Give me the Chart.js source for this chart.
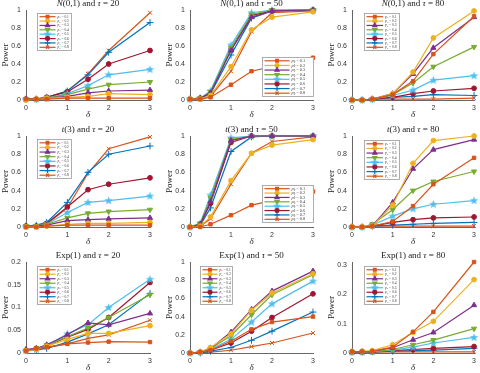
<!DOCTYPE html>
<html>
<head>
<meta charset="utf-8">
<script src="https://cdn.jsdelivr.net/npm/chart.js@4.4.0/dist/chart.umd.min.js"></script>
<style>
  html, body { margin: 0; padding: 0; background: #fff; }
  #wrap { position: relative; width: 480px; height: 373px; overflow: hidden; }
  #wrap canvas { position: absolute; }
</style>
</head>
<body>
<div id="wrap"></div>
<script>
// x positions (delta) and legend labels
const DELTA = [0, 0.25, 0.5, 1, 1.5, 2, 3];
const P0 = ["0.1", "0.2", "0.3", "0.4", "0.5", "0.6", "0.7", "0.8"];
const X_TICKS = [0, 1, 2, 3];
const Y_TICKS_UNIT = [0, 0.2, 0.4, 0.6, 0.8, 1];
const Y_TICKS_EXP20 = [0, 0.05, 0.1, 0.15, 0.2];
const Y_TICKS_EXP80 = [0, 0.1, 0.2, 0.3];

// power curves, one row per p0 (0.1 .. 0.8)
const normal20 = [
  [0.01, 0.01, 0.01, 0.02, 0.02, 0.02, 0.02],
  [0.00, 0.01, 0.02, 0.03, 0.04, 0.07, 0.06],
  [0.01, 0.01, 0.02, 0.04, 0.08, 0.10, 0.11],
  [0.01, 0.01, 0.02, 0.06, 0.12, 0.17, 0.20],
  [0.01, 0.01, 0.02, 0.07, 0.16, 0.28, 0.34],
  [0.01, 0.01, 0.03, 0.09, 0.23, 0.40, 0.55],
  [0.01, 0.01, 0.03, 0.10, 0.28, 0.53, 0.86],
  [0.01, 0.01, 0.03, 0.10, 0.29, 0.55, 0.97]
];
const normal50 = [
  [0.01, 0.01, 0.03, 0.17, 0.32, 0.37, 0.47],
  [0.01, 0.01, 0.05, 0.37, 0.78, 0.92, 0.98],
  [0.01, 0.02, 0.08, 0.55, 0.92, 0.99, 1.00],
  [0.01, 0.02, 0.09, 0.58, 0.95, 1.00, 1.00],
  [0.01, 0.02, 0.10, 0.61, 0.97, 1.00, 1.00],
  [0.01, 0.02, 0.08, 0.56, 0.94, 0.99, 1.00],
  [0.01, 0.02, 0.07, 0.50, 0.91, 0.99, 1.00],
  [0.01, 0.01, 0.04, 0.32, 0.76, 0.97, 0.99]
];
const normal80 = [
  [0.00, 0.00, 0.01, 0.06, 0.21, 0.51, 0.93],
  [0.00, 0.00, 0.01, 0.07, 0.31, 0.69, 0.99],
  [0.00, 0.00, 0.01, 0.07, 0.29, 0.58, 0.92],
  [0.00, 0.00, 0.01, 0.06, 0.19, 0.37, 0.59],
  [0.00, 0.00, 0.01, 0.05, 0.11, 0.22, 0.27],
  [0.00, 0.00, 0.01, 0.03, 0.07, 0.10, 0.13],
  [0.00, 0.00, 0.01, 0.03, 0.04, 0.06, 0.05],
  [0.00, 0.00, 0.01, 0.01, 0.01, 0.01, 0.02]
];
const t20 = [
  [0.00, 0.00, 0.01, 0.02, 0.02, 0.02, 0.02],
  [0.00, 0.00, 0.01, 0.03, 0.04, 0.04, 0.05],
  [0.01, 0.01, 0.02, 0.07, 0.08, 0.09, 0.10],
  [0.01, 0.01, 0.03, 0.10, 0.15, 0.17, 0.19],
  [0.01, 0.01, 0.03, 0.16, 0.27, 0.29, 0.34],
  [0.01, 0.01, 0.04, 0.22, 0.41, 0.47, 0.54],
  [0.01, 0.02, 0.05, 0.27, 0.60, 0.80, 0.89],
  [0.01, 0.01, 0.03, 0.21, 0.59, 0.86, 0.99]
];
const t50 = [
  [0.00, 0.00, 0.03, 0.13, 0.24, 0.29, 0.39],
  [0.00, 0.01, 0.11, 0.51, 0.81, 0.90, 0.96],
  [0.00, 0.03, 0.28, 0.95, 1.00, 1.00, 1.00],
  [0.00, 0.04, 0.32, 0.96, 1.00, 1.00, 1.00],
  [0.00, 0.04, 0.35, 0.98, 1.00, 1.00, 1.00],
  [0.00, 0.03, 0.26, 0.93, 1.00, 1.00, 1.00],
  [0.00, 0.02, 0.21, 0.83, 0.99, 1.00, 1.00],
  [0.00, 0.01, 0.09, 0.47, 0.81, 0.94, 0.99]
];
const t80 = [
  [0.00, 0.00, 0.01, 0.06, 0.23, 0.47, 0.76],
  [0.00, 0.00, 0.01, 0.24, 0.70, 0.95, 1.00],
  [0.00, 0.00, 0.01, 0.27, 0.64, 0.85, 0.96],
  [0.00, 0.00, 0.03, 0.19, 0.40, 0.50, 0.61],
  [0.00, 0.00, 0.02, 0.12, 0.20, 0.25, 0.29],
  [0.00, 0.00, 0.01, 0.05, 0.08, 0.10, 0.11],
  [0.00, 0.00, 0.01, 0.02, 0.03, 0.04, 0.05],
  [0.00, 0.00, 0.01, 0.01, 0.01, 0.01, 0.01]
];
const exp20 = [
  [0.005, 0.010, 0.013, 0.020, 0.023, 0.025, 0.024],
  [0.005, 0.008, 0.015, 0.030, 0.043, 0.043, 0.060],
  [0.008, 0.010, 0.018, 0.040, 0.066, 0.062, 0.087],
  [0.005, 0.010, 0.017, 0.036, 0.055, 0.078, 0.128],
  [0.005, 0.008, 0.015, 0.042, 0.062, 0.100, 0.162],
  [0.005, 0.010, 0.015, 0.035, 0.052, 0.078, 0.155],
  [0.005, 0.007, 0.010, 0.024, 0.042, 0.062, 0.131],
  [0.005, 0.008, 0.012, 0.020, 0.032, 0.040, 0.072]
];
const exp50 = [
  [0.00, 0.01, 0.03, 0.13, 0.26, 0.34, 0.40],
  [0.00, 0.01, 0.06, 0.21, 0.47, 0.66, 0.87],
  [0.00, 0.01, 0.05, 0.23, 0.48, 0.68, 0.90],
  [0.00, 0.01, 0.05, 0.19, 0.42, 0.64, 0.86],
  [0.00, 0.01, 0.04, 0.15, 0.34, 0.54, 0.79],
  [0.00, 0.01, 0.03, 0.11, 0.24, 0.39, 0.65],
  [0.00, 0.00, 0.02, 0.06, 0.14, 0.24, 0.45],
  [0.00, 0.00, 0.01, 0.03, 0.07, 0.11, 0.22]
];
const exp80 = [
  [0.005, 0.005, 0.006, 0.020, 0.072, 0.140, 0.310],
  [0.005, 0.006, 0.008, 0.028, 0.070, 0.108, 0.250],
  [0.003, 0.004, 0.006, 0.018, 0.045, 0.070, 0.163],
  [0.003, 0.004, 0.005, 0.012, 0.028, 0.044, 0.083],
  [0.003, 0.003, 0.005, 0.010, 0.020, 0.034, 0.053],
  [0.003, 0.003, 0.004, 0.008, 0.012, 0.016, 0.022],
  [0.003, 0.003, 0.004, 0.006, 0.008, 0.010, 0.016],
  [0.002, 0.002, 0.003, 0.004, 0.004, 0.004, 0.004]
];

// series styles (MATLAB-like)
const COLORS = ["#D95319", "#EDB120", "#7E2F8E", "#77AC30", "#4DBEEE", "#A2142F", "#0072BD", "#D95319"];

function makeStar(color) {
  const c = document.createElement("canvas");
  c.width = c.height = 9;
  const g = c.getContext("2d");
  g.fillStyle = color;
  g.beginPath();
  for (let i = 0; i < 10; i++) {
    const r = i % 2 ? 1.9 : 4.4;
    const a = -Math.PI / 2 + i * Math.PI / 5;
    const px = 4.5 + r * Math.cos(a), py = 4.7 + r * Math.sin(a);
    i ? g.lineTo(px, py) : g.moveTo(px, py);
  }
  g.closePath();
  g.fill();
  return c;
}
const MARKERS = ["rect", "circle", "triangle", "triangle", makeStar(COLORS[4]), "circle", "cross", "crossRot"];
const ROTATIONS = [0, 0, 0, 180, 0, 0, 0, 0];
const RADII = [2.4, 2.4, 3, 3, 3, 2.4, 3.4, 2.8];

const PANELS = [
  { title: [["N", 1], ["(0,1) and ", 0], ["τ", 1], [" = 20", 0]], data: normal20, ymax: 1, yticks: Y_TICKS_UNIT },
  { title: [["N", 1], ["(0,1) and ", 0], ["τ", 1], [" = 50", 0]], data: normal50, ymax: 1, yticks: Y_TICKS_UNIT },
  { title: [["N", 1], ["(0,1) and ", 0], ["τ", 1], [" = 80", 0]], data: normal80, ymax: 1, yticks: Y_TICKS_UNIT },
  { title: [["t", 1], ["(3) and ", 0], ["τ", 1], [" = 20", 0]], data: t20, ymax: 1, yticks: Y_TICKS_UNIT },
  { title: [["t", 1], ["(3) and ", 0], ["τ", 1], [" = 50", 0]], data: t50, ymax: 1, yticks: Y_TICKS_UNIT },
  { title: [["t", 1], ["(3) and ", 0], ["τ", 1], [" = 80", 0]], data: t80, ymax: 1, yticks: Y_TICKS_UNIT },
  { title: [["Exp(1) and ", 0], ["τ", 1], [" = 20", 0]], data: exp20, ymax: 0.2, yticks: Y_TICKS_EXP20 },
  { title: [["Exp(1) and ", 0], ["τ", 1], [" = 50", 0]], data: exp50, ymax: 1, yticks: Y_TICKS_UNIT },
  { title: [["Exp(1) and ", 0], ["τ", 1], [" = 80", 0]], data: exp80, ymax: 0.31, yticks: Y_TICKS_EXP80 }
];

// layout: canvas origins and plot rectangles inside each canvas
const COL_X = [0, 160, 320], ROW_Y = [0, 124, 248];
const CW = 160, CH = [124, 124, 125];
const COL_LEFT = [26, 30, 32], COL_RIGHT = [150, 153, 157];
const ROW_TOP = [10, 12, 14], ROW_BOTTOM = [100, 103, 105];
const LEGEND_BOXES = [
  [37, 13, 35, 38], [102, 57, 52, 40], [44, 13, 36, 38],
  [37, 15, 35, 40], [102, 61, 52, 38], [44, 16, 36, 40],
  [37, 18, 35, 39], [40, 18, 33, 39], [44, 18, 36, 39]
];

const SERIF = "'Liberation Serif', 'DejaVu Serif', serif";
const SANS = "'Liberation Sans', Arial, sans-serif";

const decor = {
  id: "decor",
  afterDatasetsDraw(chart, args, opts) {
    const ctx = chart.ctx;
    const a = chart.chartArea;
    // legend box
    const [bx, by, bw, bh] = opts.legend;
    ctx.save();
    ctx.fillStyle = "#fff";
    ctx.fillRect(bx, by, bw, bh);
    ctx.strokeStyle = "#9a9a9a";
    ctx.lineWidth = 0.8;
    ctx.strokeRect(bx + 0.5, by + 0.5, bw - 1, bh - 1);
    const n = chart.data.datasets.length;
    const rowH = (bh - 3) / n;
    const sx0 = bx + 2.5, sx1 = bx + bw * 0.53;
    const fs = bw > 45 ? 4.3 : 3.6;
    chart.data.datasets.forEach((ds, i) => {
      const y = by + 1.5 + rowH * (i + 0.5);
      ctx.strokeStyle = ds.borderColor;
      ctx.lineWidth = 1.2;
      ctx.beginPath();
      ctx.moveTo(sx0, y);
      ctx.lineTo(sx1, y);
      ctx.stroke();
      ctx.fillStyle = ds.pointBackgroundColor;
      ctx.strokeStyle = ds.pointBorderColor;
      Chart.helpers.drawPoint(ctx, {
        pointStyle: ds.pointStyle, rotation: ds.pointRotation,
        radius: ds.pointRadius * 0.8, borderWidth: 1
      }, (sx0 + sx1) / 2, y);
      ctx.fillStyle = "#333";
      ctx.font = "italic " + fs + "px " + SERIF;
      ctx.textAlign = "left";
      ctx.textBaseline = "middle";
      ctx.fillText("p", sx1 + 2, y);
      const pw = ctx.measureText("p").width;
      ctx.font = (fs * 0.7) + "px " + SERIF;
      ctx.fillText("0", sx1 + 2 + pw, y + fs * 0.25);
      const zw = ctx.measureText("0").width;
      ctx.font = fs + "px " + SERIF;
      ctx.fillText(" = " + P0[i], sx1 + 2 + pw + zw, y);
    });
    ctx.restore();
  },
  afterDraw(chart, args, opts) {
    const ctx = chart.ctx;
    const a = chart.chartArea;
    ctx.save();
    ctx.fillStyle = "#1a1a1a";
    ctx.textBaseline = "middle";
    // title made of italic / upright pieces
    const fsT = 9;
    let total = 0;
    opts.title.forEach(([t, it]) => {
      ctx.font = (it ? "italic " : "") + fsT + "px " + SERIF;
      total += ctx.measureText(t).width;
    });
    let x = (a.left + a.right) / 2 - total / 2;
    ctx.textAlign = "left";
    opts.title.forEach(([t, it]) => {
      ctx.font = (it ? "italic " : "") + fsT + "px " + SERIF;
      ctx.fillText(t, x, a.top - 6);
      x += ctx.measureText(t).width;
    });
    // x label
    ctx.textAlign = "center";
    ctx.font = "italic 9px " + SERIF;
    ctx.fillText("δ", (a.left + a.right) / 2, a.bottom + 15);
    // y label
    ctx.translate(a.left - 20, (a.top + a.bottom) / 2);
    ctx.rotate(-Math.PI / 2);
    ctx.font = "9px " + SERIF;
    ctx.fillText("Power", 0, 0);
    ctx.restore();
  }
};

const wrap = document.getElementById("wrap");

PANELS.forEach((p, k) => {
  const col = k % 3, row = Math.floor(k / 3);
  const canvas = document.createElement("canvas");
  canvas.width = CW;
  canvas.height = CH[row];
  canvas.style.left = COL_X[col] + "px";
  canvas.style.top = ROW_Y[row] + "px";
  wrap.appendChild(canvas);

  const left = COL_LEFT[col], right = COL_RIGHT[col];
  const top = ROW_TOP[row], bottom = ROW_BOTTOM[row];

  const datasets = p.data.map((vals, i) => ({
    label: "p0 = " + P0[i],
    data: vals.map((v, j) => ({ x: DELTA[j], y: v })),
    borderColor: COLORS[i],
    backgroundColor: COLORS[i],
    pointBackgroundColor: COLORS[i],
    pointBorderColor: COLORS[i],
    pointStyle: MARKERS[i],
    pointRotation: ROTATIONS[i],
    pointRadius: RADII[i],
    pointBorderWidth: 1,
    borderWidth: 1.2,
    tension: 0,
    clip: 8
  }));

  new Chart(canvas, {
    type: "line",
    data: { datasets },
    plugins: [decor],
    options: {
      responsive: false,
      animation: false,
      devicePixelRatio: 1,
      layout: { padding: { top: top, right: CW - right, left: 0, bottom: 0 } },
      plugins: {
        legend: { display: false },
        tooltip: { enabled: false },
        decor: { title: p.title, legend: LEGEND_BOXES[k] }
      },
      scales: {
        x: {
          type: "linear", min: 0, max: 3,
          afterFit: (s) => { s.height = CH[row] - bottom; },
          afterBuildTicks: (s) => { s.ticks = X_TICKS.map(v => ({ value: v })); },
          grid: { drawOnChartArea: false, drawTicks: false },
          border: { display: true, color: "#666", width: 1 },
          ticks: { padding: 4, color: "#333", font: { family: SANS, size: 7 }, maxRotation: 0, callback: v => String(v) }
        },
        y: {
          min: 0, max: p.ymax,
          afterFit: (s) => { s.width = left; },
          afterBuildTicks: (s) => { s.ticks = p.yticks.map(v => ({ value: v })); },
          grid: { drawOnChartArea: false, drawTicks: false },
          border: { display: true, color: "#666", width: 1 },
          ticks: { padding: 5, color: "#333", font: { family: SANS, size: 7 }, callback: v => String(+(+v).toFixed(2)) }
        }
      }
    }
  });
});
</script>
</body>
</html>
